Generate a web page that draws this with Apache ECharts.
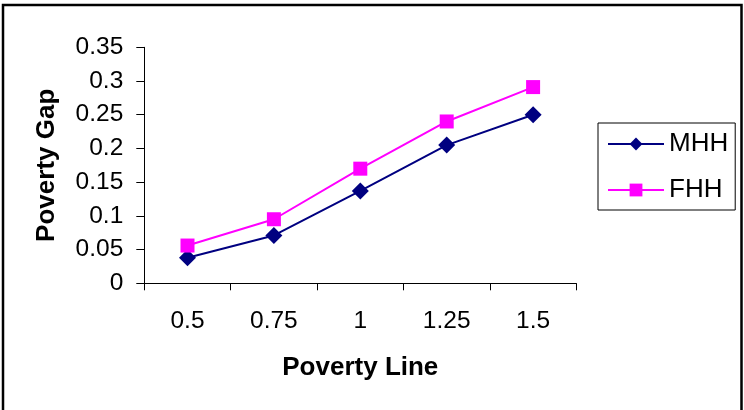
<!DOCTYPE html>
<html>
<head>
<meta charset="utf-8">
<script src="https://cdn.jsdelivr.net/npm/echarts@6/dist/echarts.min.js"></script>
<style>
html,body{margin:0;padding:0;background:#fff;}
#chart{width:744px;height:410px;}
</style>
</head>
<body>
<div id="chart"></div>
<script>
const categories = ['0.5', '0.75', '1', '1.25', '1.5'];
const mhh = [0.038, 0.071, 0.137, 0.205, 0.250];
const fhh = [0.056, 0.095, 0.170, 0.240, 0.291];
const seriesNames = ['MHH', 'FHH'];
const xTitle = 'Poverty Line';
const yTitle = 'Poverty Gap';

const font = '"Liberation Sans", Arial, sans-serif';
const chart = echarts.init(document.getElementById('chart'));
chart.setOption({
  animation: false,
  backgroundColor: '#fff',
  textStyle: { fontFamily: font, color: '#000' },
  graphic: [{
    type: 'rect',
    shape: { x: 3, y: 5, width: 738.5, height: 430 },
    style: { fill: 'none', stroke: '#000', lineWidth: 2.5 },
    silent: true
  }],
  grid: { left: 144.3, right: 167.7, top: 47.3, bottom: 126.7, containLabel: false },
  legend: {
    orient: 'vertical',
    left: 598,
    top: 123,
    padding: [8, 7, 7, 9],
    itemGap: 20,
    itemWidth: 56,
    itemHeight: 16,
    borderColor: '#000',
    borderWidth: 1,
    textStyle: { fontFamily: font, fontSize: 26, color: '#000', lineHeight: 26 },
    data: seriesNames
  },
  xAxis: {
    type: 'category',
    data: categories,
    boundaryGap: true,
    name: xTitle,
    nameLocation: 'middle',
    nameGap: 72,
    nameTextStyle: { fontFamily: font, fontSize: 26, fontWeight: 'bold', color: '#000' },
    axisLine: { lineStyle: { color: '#000', width: 1 } },
    axisTick: { show: true, length: 7, lineStyle: { color: '#000' } },
    axisLabel: { margin: 25, fontFamily: font, fontSize: 24.5, color: '#000' },
    splitLine: { show: false }
  },
  yAxis: {
    type: 'value',
    min: 0,
    max: 0.35,
    interval: 0.05,
    name: yTitle,
    nameLocation: 'middle',
    nameGap: 84,
    nameRotate: 90,
    nameTextStyle: { fontFamily: font, fontSize: 26, fontWeight: 'bold', color: '#000' },
    axisLine: { show: true, lineStyle: { color: '#000', width: 1 } },
    axisTick: { show: true, length: 8, lineStyle: { color: '#000' } },
    axisLabel: { margin: 21, fontFamily: font, fontSize: 24.5, color: '#000' },
    splitLine: { show: false }
  },
  series: [
    {
      name: seriesNames[0],
      type: 'line',
      data: mhh,
      color: '#000080',
      symbol: 'diamond',
      symbolSize: 17,
      lineStyle: { color: '#000080', width: 2 },
      itemStyle: { color: '#000080' }
    },
    {
      name: seriesNames[1],
      type: 'line',
      data: fhh,
      color: '#FF00FF',
      symbol: 'rect',
      symbolSize: 14,
      lineStyle: { color: '#FF00FF', width: 2 },
      itemStyle: { color: '#FF00FF' }
    }
  ]
});
</script>
</body>
</html>
